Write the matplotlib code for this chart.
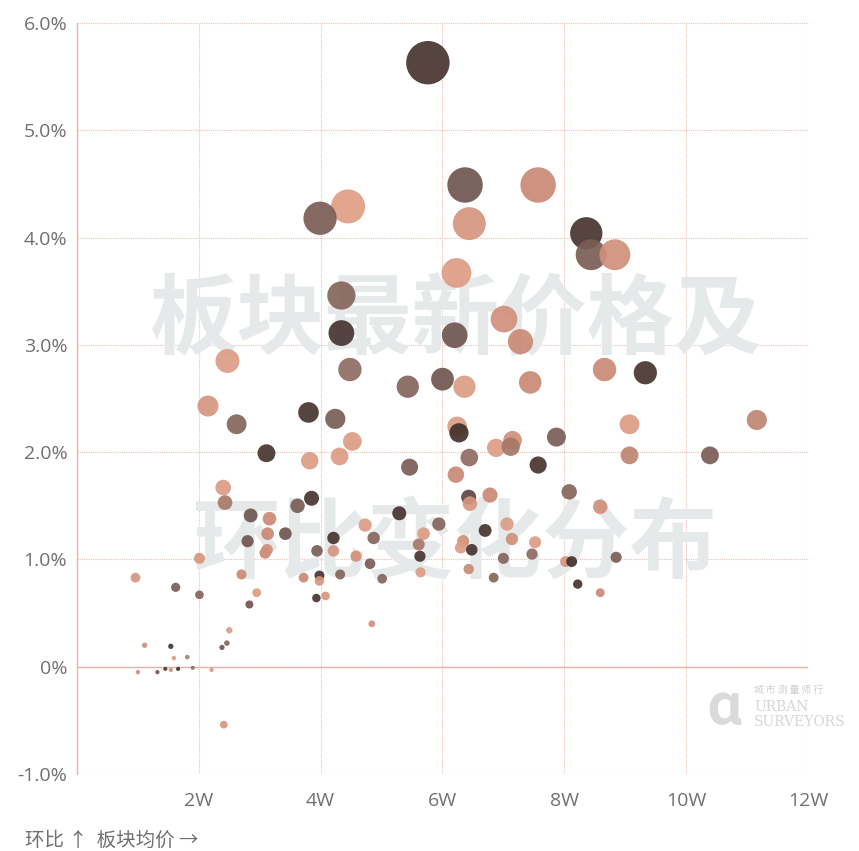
import matplotlib
matplotlib.use("Agg")
from matplotlib import pyplot as plt
from matplotlib.colors import LinearSegmentedColormap
import numpy as np

plt.rcParams['font.family'] = ['Noto Sans CJK SC', 'DejaVu Sans']

# 板块均价 (万), 环比 (%), 色阶值
price_w = [5.76, 6.37, 7.57, 4.45, 3.99, 6.44, 8.36, 8.44, 8.83, 4.34,
           4.34, 4.48, 5.43, 6.00, 6.36, 6.23, 6.20, 7.01, 7.28, 7.44,
           4.24, 4.52, 4.31, 6.24, 6.27, 6.88, 7.15, 7.12, 7.87, 6.44,
           7.57, 5.46, 6.22, 8.08, 6.43, 6.45, 6.78, 2.47, 2.15, 2.62,
           3.80, 3.11, 3.82, 2.40, 2.43, 3.85, 2.85, 3.16, 3.62, 2.80,
           3.13, 3.42, 3.94, 4.21, 3.09, 3.12, 2.01, 0.96, 1.62, 2.01,
           2.70, 2.95, 2.83, 3.72, 3.98, 3.98, 3.93, 4.08, 2.50, 2.38,
           2.46, 1.11, 1.54, 1.59, 1.81, 1.00, 1.32, 1.45, 1.54, 1.66,
           1.90, 2.21, 2.41, 5.29, 4.73, 4.87, 4.21, 4.58, 4.81, 4.32,
           5.01, 4.84, 5.94, 5.69, 5.61, 5.63, 5.64, 6.70, 7.06, 7.14,
           6.34, 6.30, 6.48, 7.52, 7.47, 7.00, 6.43, 6.84, 8.02, 8.12,
           8.22, 8.59, 8.85, 8.59, 8.66, 9.33, 9.07, 9.07, 11.16, 10.39]

mom_pct = [5.63, 4.49, 4.49, 4.29, 4.18, 4.13, 4.04, 3.84, 3.84, 3.46,
           3.11, 2.77, 2.61, 2.68, 2.61, 3.67, 3.09, 3.24, 3.03, 2.65,
           2.31, 2.10, 1.96, 2.24, 2.18, 2.04, 2.11, 2.05, 2.14, 1.95,
           1.88, 1.86, 1.79, 1.63, 1.58, 1.52, 1.60, 2.85, 2.43, 2.26,
           2.37, 1.99, 1.92, 1.67, 1.53, 1.57, 1.41, 1.38, 1.50, 1.17,
           1.24, 1.24, 1.08, 1.08, 1.06, 1.09, 1.01, 0.83, 0.74, 0.67,
           0.86, 0.69, 0.58, 0.83, 0.85, 0.80, 0.64, 0.66, 0.34, 0.18,
           0.22, 0.20, 0.19, 0.08, 0.09, -0.05, -0.05, -0.02, -0.03, -0.02,
           -0.01, -0.03, -0.54, 1.43, 1.32, 1.20, 1.20, 1.03, 0.96, 0.86,
           0.82, 0.40, 1.33, 1.24, 1.14, 1.03, 0.88, 1.27, 1.33, 1.19,
           1.17, 1.11, 1.09, 1.16, 1.05, 1.01, 0.91, 0.83, 0.98, 0.98,
           0.77, 1.49, 1.02, 0.69, 2.77, 2.74, 2.26, 1.97, 2.30, 1.97]

tone = [0.05, 0.35, 0.75, 0.92, 0.40, 0.85, 0.05, 0.40, 0.80, 0.45,
        0.05, 0.50, 0.45, 0.35, 0.90, 0.90, 0.35, 0.80, 0.75, 0.75,
        0.40, 0.90, 0.90, 0.90, 0.00, 0.90, 0.80, 0.60, 0.40, 0.50,
        0.05, 0.40, 0.75, 0.45, 0.25, 0.85, 0.75, 0.90, 0.85, 0.45,
        0.05, 0.05, 0.90, 0.90, 0.60, 0.05, 0.35, 0.75, 0.40, 0.35,
        0.75, 0.35, 0.40, 0.85, 0.75, 0.80, 0.85, 0.85, 0.40, 0.45,
        0.75, 0.90, 0.35, 0.75, 0.05, 0.85, 0.05, 0.85, 0.90, 0.35,
        0.45, 0.80, 0.05, 0.90, 0.65, 0.80, 0.40, 0.10, 0.80, 0.00,
        0.50, 0.85, 0.85, 0.05, 0.90, 0.45, 0.05, 0.80, 0.40, 0.45,
        0.45, 0.80, 0.45, 0.90, 0.60, 0.05, 0.90, 0.05, 0.90, 0.80,
        0.80, 0.90, 0.05, 0.90, 0.50, 0.45, 0.75, 0.45, 0.85, 0.00,
        0.05, 0.80, 0.40, 0.75, 0.75, 0.05, 0.90, 0.70, 0.70, 0.40]

x_ticks = [2, 4, 6, 8, 10, 12]
y_ticks = [-1, 0, 1, 2, 3, 4, 5, 6]

fig = plt.figure(figsize=(8.59, 8.51), dpi=100)
ax = fig.add_axes([77 / 859, 1 - 774 / 851, 731 / 859, 751 / 851])

cmap = LinearSegmentedColormap.from_list(
    "tone", ["#42302c", "#5c4743", "#8f6c62", "#c98a75", "#eaa78d"])

mom = np.array(mom_pct)
diam_px = 4 + 7 * np.abs(mom)          # symbol size follows |环比|
sizes = (diam_px * 72 / 100) ** 2

ax.text(0.517, 0.602, "板块最新价格及", transform=ax.transAxes, ha="center",
        va="center", fontsize=63, fontweight="bold", color="#e6e9ea", zorder=1)
ax.text(0.517, 0.305, "环比变化分布", transform=ax.transAxes, ha="center",
        va="center", fontsize=63, fontweight="bold", color="#e6e9ea", zorder=1)

ax.scatter(price_w, mom_pct, s=sizes, c=cmap(np.array(tone)), alpha=0.92,
           linewidths=0, zorder=3)

ax.set_xlim(0, 12)
ax.set_ylim(-1, 6)
ax.set_xticks(x_ticks)
ax.set_xticklabels([f"{t}W" for t in x_ticks])
ax.set_yticks(y_ticks)
ax.set_yticklabels(["0%" if t == 0 else f"{t:.1f}%" for t in y_ticks])
ax.tick_params(length=0, labelsize=14, labelcolor="#707070")
ax.tick_params(axis="y", pad=7)
ax.tick_params(axis="x", pad=13)
for lab in ax.get_xticklabels() + ax.get_yticklabels():
    lab.set_family(["Open Sans", "DejaVu Sans"])

ax.grid(True, color="#f0bfb4", linestyle=(0, (1, 1)), linewidth=0.8, zorder=0)
ax.set_axisbelow(True)
for side in ["top", "right", "bottom"]:
    ax.spines[side].set_visible(False)
ax.spines["left"].set_color("#e8b3a5")
ax.spines["left"].set_linewidth(1.0)
ax.axhline(0, color="#e8b3a5", linewidth=1.0, zorder=2)

# logo
fig.text(724 / 859, 1 - 708 / 851, "ɑ", fontsize=40, color="#dadada",
         ha="center", va="center", fontweight="bold")
fig.text(754 / 859, 1 - 690 / 851, "城 市 测 量 师 行", fontsize=7,
         color="#cfcfcf", ha="left", va="center")
fig.text(754 / 859, 1 - 707 / 851, "URBAN", fontsize=10, color="#d6d6d6",
         ha="left", va="center", family=["DejaVu Serif"])
fig.text(754 / 859, 1 - 722 / 851, "SURVEYORS", fontsize=10, color="#d6d6d6",
         ha="left", va="center", family=["DejaVu Serif"])

fig.text(25 / 859, 1 - 840 / 851, "环比 ↑  板块均价 →", fontsize=14,
         color="#707070", ha="left", va="center",
         family=["Noto Sans CJK SC", "DejaVu Sans"])

fig.savefig("out.png", dpi=100, facecolor="white")
